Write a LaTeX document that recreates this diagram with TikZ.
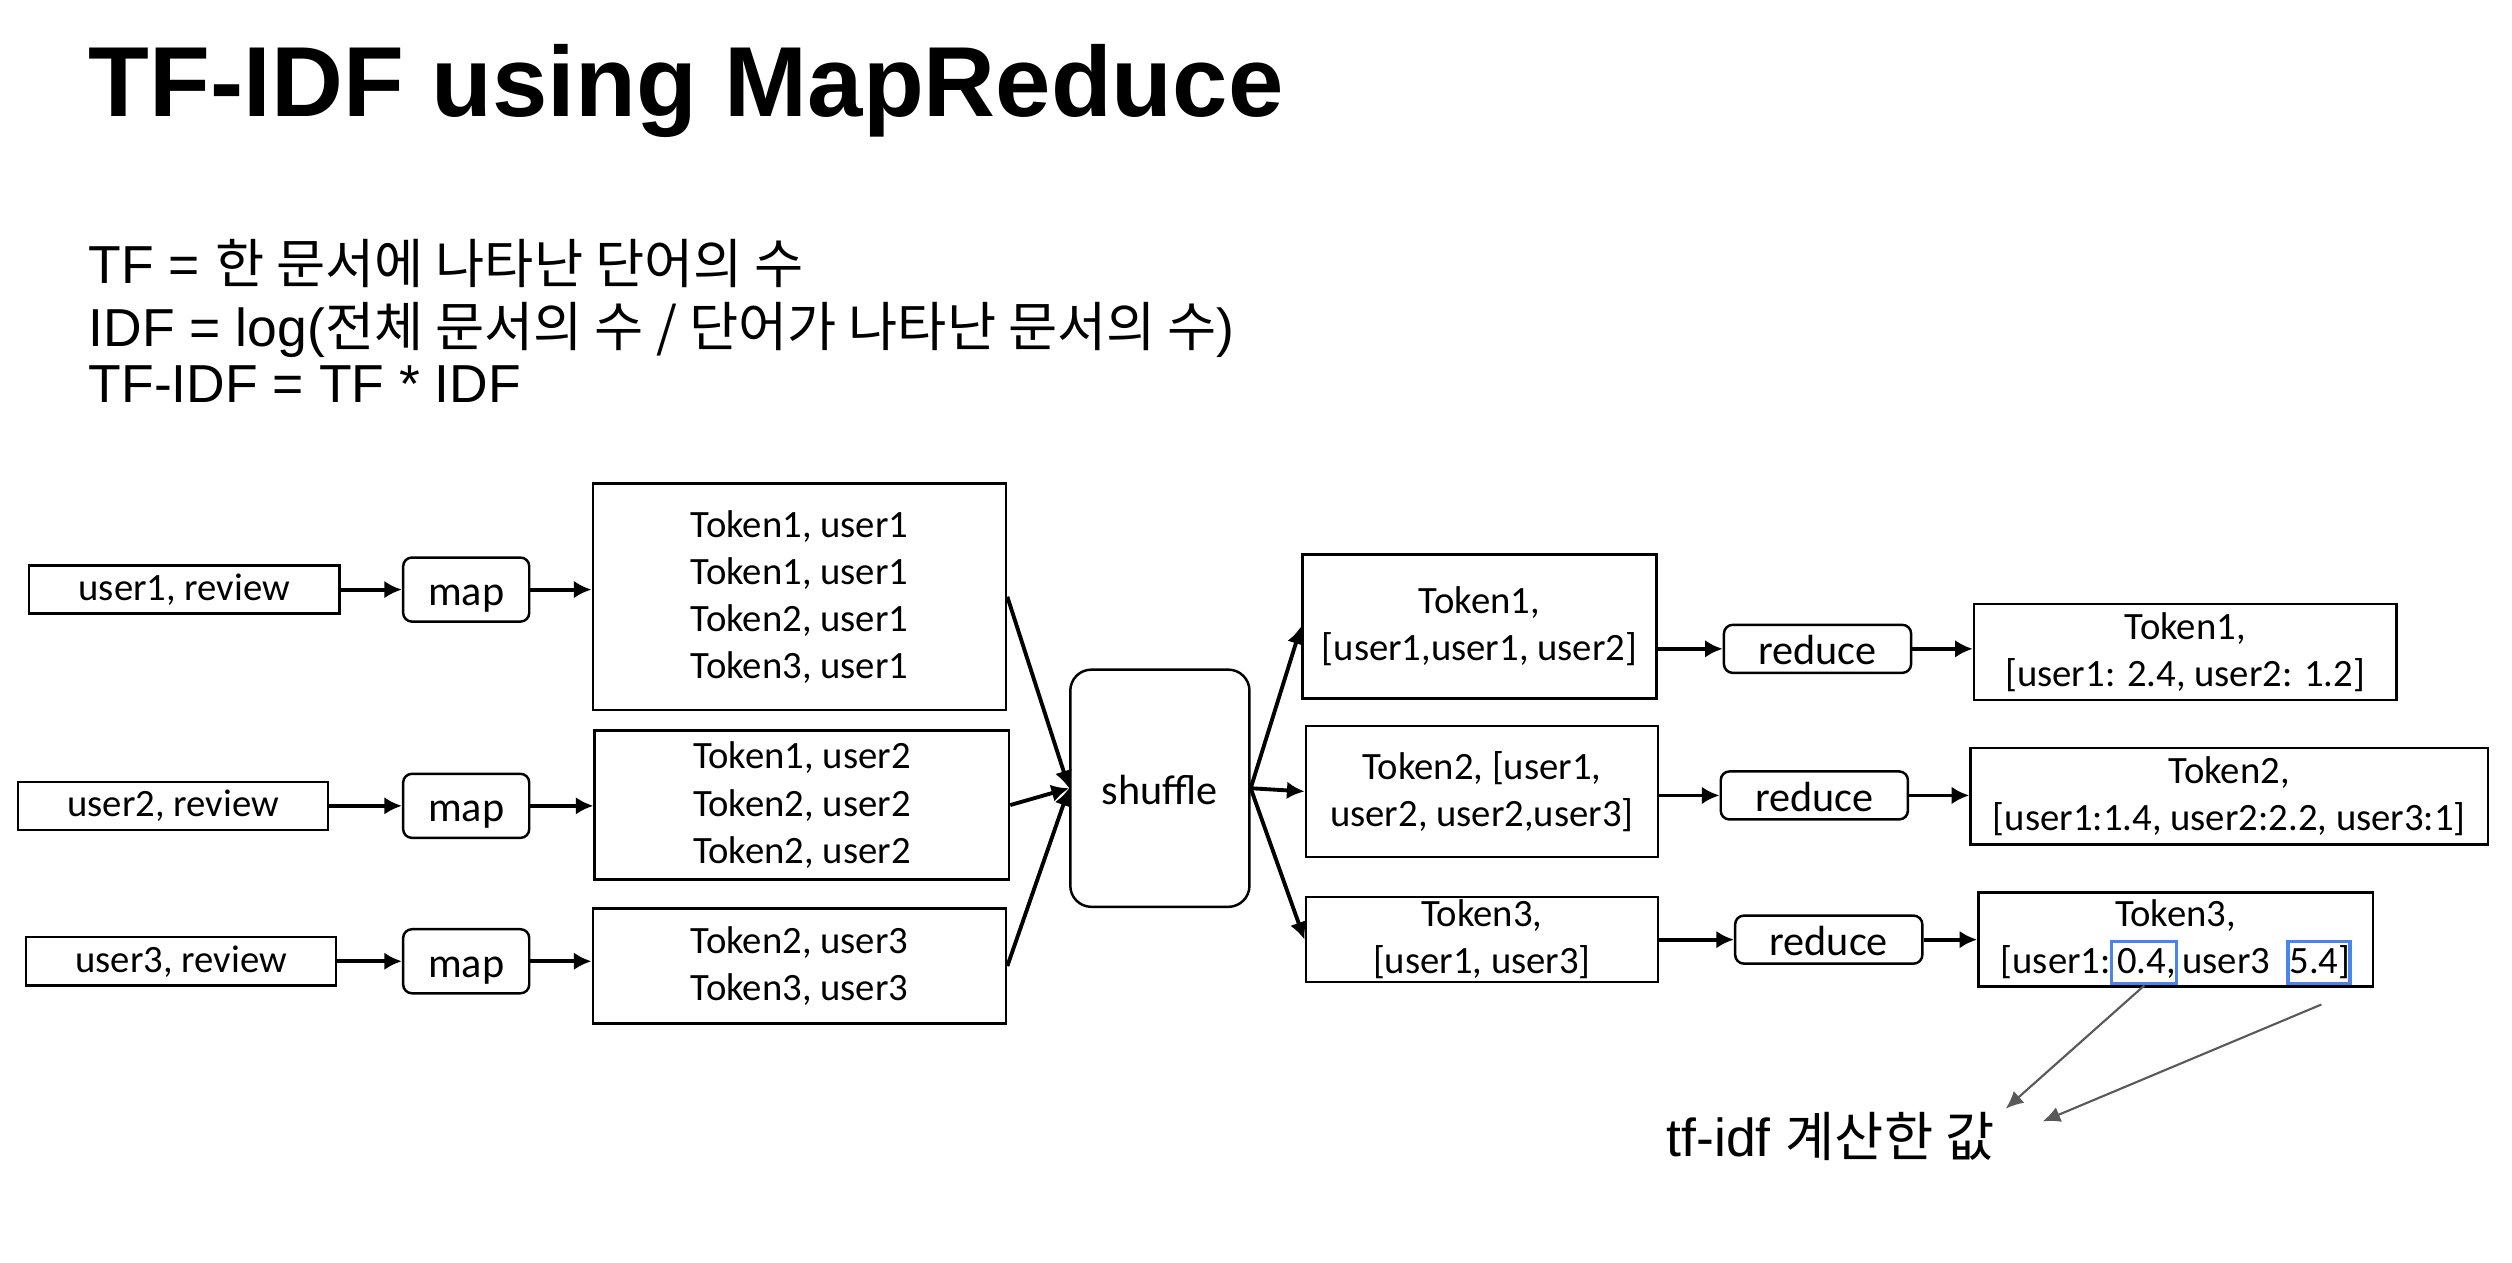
\documentclass[tikz,border=0pt]{standalone}
\usepackage{fontspec}
\setmainfont{Liberation Sans}
\newfontfamily\calibri{Carlito}
\newfontfamily\kr{Noto Sans CJK KR}
\usetikzlibrary{arrows.meta}
\definecolor{markblue}{HTML}{4A86E8}
\definecolor{notegray}{HTML}{595959}

\begin{document}
\begin{tikzpicture}[x=0.016cm,y=-0.016cm,
  tbox/.style={draw,line width=0.7pt,align=center,inner sep=0pt,
    font=\calibri\fontsize{11}{13.4}\selectfont},
  opbox/.style={draw,line width=0.7pt,rounded corners=2.5pt,inner sep=0pt,
    minimum width=1.26cm,minimum height=0.64cm,text height=11pt,text depth=2pt,
    font=\calibri\fontsize{12}{14}\selectfont},
  flow/.style={line width=1.1pt,-{Latex[length=5pt,width=5pt]}},
  valbox/.style={draw=markblue,line width=0.9pt,inner sep=0pt,
    minimum width=0.65cm,minimum height=0.42cm},
  tfarrow/.style={notegray,line width=0.6pt,-{Latex[length=5pt,width=4.5pt]}},
  txt/.style={anchor=base west,inner sep=0pt,font=\fontsize{15.2}{18}\selectfont}]

  \useasboundingbox (0,0) rectangle (1568,788);

  % Title and formulas
  \node[anchor=base west,inner sep=0pt,font=\bfseries\fontsize{28.3}{34}\selectfont]
    (title) at (55,73) {TF-IDF using MapReduce};
  \node[txt] (tf) at (55,177) {TF = {\kr 한 문서에 나타난 단어의 수}};
  \node[txt] (idf) at (55,216) {IDF = log({\kr 전체 문서의 수 / 단어가 나타난 문서의 수})};
  \node[txt] (tfidf) at (55,251) {TF-IDF = TF * IDF};

  % Map stage
  \node[tbox,minimum width=3.1cm,minimum height=0.48cm] (in1) at (115,368) {user1, review};
  \node[tbox,minimum width=3.1cm,minimum height=0.48cm] (in2) at (108,503) {user2, review};
  \node[tbox,minimum width=3.1cm,minimum height=0.48cm] (in3) at (113,600) {user3, review};
  \node[opbox] (map1) at (291,368) {map};
  \node[opbox] (map2) at (291,503) {map};
  \node[opbox] (map3) at (291,600) {map};
  \node[tbox,minimum width=4.13cm,minimum height=2.26cm] (tok1) at (499,372.5)
    {Token1, user1\\Token1, user1\\Token2, user1\\Token3, user1};
  \node[tbox,minimum width=4.14cm,minimum height=1.49cm] (tok2) at (500.5,502.5)
    {Token1, user2\\Token2, user2\\Token2, user2};
  \node[tbox,minimum width=4.13cm,minimum height=1.15cm] (tok3) at (499,603)
    {Token2, user3\\Token3, user3};

  % Shuffle
  \node[opbox,rounded corners=6pt,minimum width=1.79cm,minimum height=2.37cm]
    (shuf) at (724,492) {shuffle};

  % Grouped tokens
  \node[tbox,minimum width=3.54cm,minimum height=1.44cm] (grp1) at (923.5,391)
    {Token1,\\{}[user1,user1, user2]};
  \node[tbox,minimum width=3.52cm,minimum height=1.31cm] (grp2) at (925,494)
    {Token2, [user1,\\user2, user2,user3]};
  \node[tbox,minimum width=3.52cm,minimum height=0.85cm] (grp3) at (925,586.5)
    {Token3,\\{}[user1, user3]};

  % Reduce stage
  \node[opbox,minimum width=1.87cm,minimum height=0.48cm] (red1) at (1134.5,405) {reduce};
  \node[opbox,minimum width=1.87cm,minimum height=0.48cm] (red2) at (1132.5,496.5) {reduce};
  \node[opbox,minimum width=1.87cm,minimum height=0.48cm] (red3) at (1141.5,586.5) {reduce};
  \node[tbox,minimum width=4.22cm,minimum height=0.96cm] (out1) at (1364,407)
    {Token1,\\{}[user1: 2.4, user2: 1.2]};
  \node[tbox,minimum width=5.17cm,minimum height=0.96cm] (out2) at (1391.5,497)
    {Token2,\\{}[user1:1.4, user2:2.2, user3:1]};
  \node[tbox,minimum width=3.94cm,minimum height=0.94cm] (out3) at (1358,586.5)
    {Token3,\\{}[user1:\,0.4,\,user3\enspace 5.4]};

  % Highlighted values
  \node[valbox] (v1) at (1338.5,601) {};
  \node[valbox,minimum width=0.62cm] (v2) at (1447.5,601) {};

  % Connectors
  \foreach \i in {1,2,3} {
    \draw[flow] (in\i) -- (map\i);
    \draw[flow] (map\i.east) -- (map\i.east -| tok\i.west);
    \draw[flow] (tok\i.east) -- (shuf.west);
    \draw[flow] (shuf.east) -- (grp\i.west);
    \draw[flow] (red\i.west -| grp\i.east) -- (red\i.west);
    \draw[flow] (red\i.east) -- (red\i.east -| out\i.west);
  }

  % Note
  \node[txt] (lbl) at (1040,722) {tf-idf {\kr 계산한 값}};
  \coordinate (from2) at (1449,627);
  \coordinate (tip1) at (1252,692);
  \coordinate (tip2) at (1275,700);
  \draw[tfarrow] (v1.south) -- (tip1);
  \draw[tfarrow] (from2) -- (tip2);
\end{tikzpicture}
\end{document}
